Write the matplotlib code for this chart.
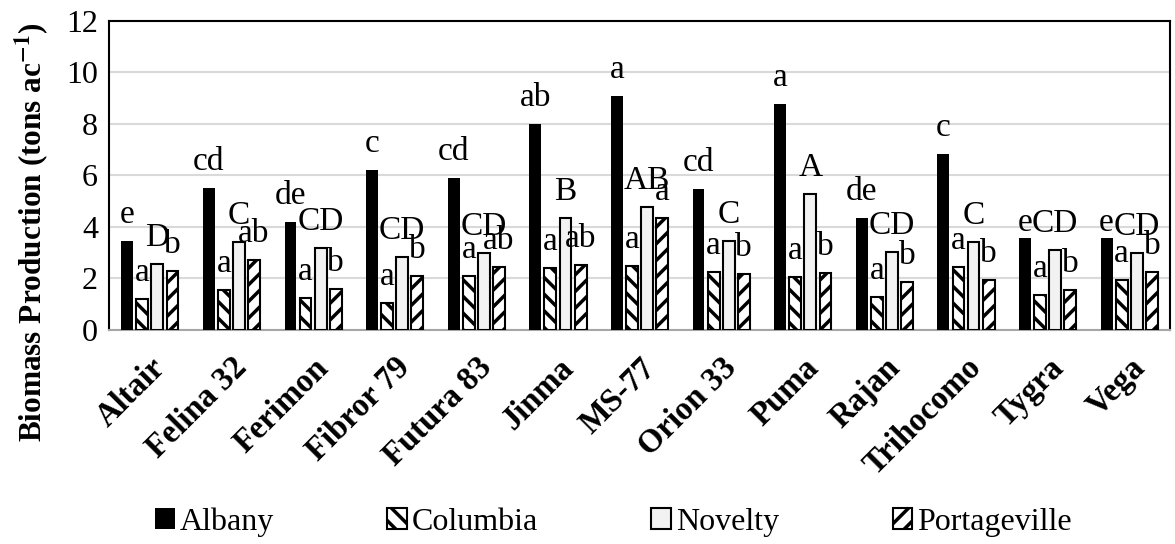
import numpy as np
import matplotlib
matplotlib.use("Agg")
import matplotlib.pyplot as plt

plt.rcParams['font.family'] = ['Liberation Serif', 'DejaVu Serif']
plt.rcParams['mathtext.fontset'] = 'stix'
plt.rcParams['hatch.linewidth'] = 2.5

cultivars = ["Altair", "Felina 32", "Ferimon", "Fibror 79", "Futura 83", "Jinma",
             "MS-77", "Orion 33", "Puma", "Rajan", "Trihocomo", "Tygra", "Vega"]

albany = [3.46, 5.53, 4.21, 6.21, 5.89, 8.00, 9.10, 5.46, 8.79, 4.35, 6.85, 3.57, 3.58]
columbia = [1.19, 1.54, 1.24, 1.06, 2.11, 2.41, 2.50, 2.25, 2.05, 1.28, 2.43, 1.36, 1.93]
novelty = [2.56, 3.43, 3.17, 2.85, 2.98, 4.34, 4.78, 3.47, 5.27, 3.04, 3.41, 3.10, 2.98]
portageville = [2.29, 2.71, 1.59, 2.10, 2.46, 2.51, 4.36, 2.17, 2.21, 1.85, 1.93, 1.55, 2.25]

albany_lbl = ["e", "cd", "de", "c", "cd", "ab", "a", "cd", "a", "de", "c", "e", "e"]
columbia_lbl = ["a"] * 13
novelty_lbl = ["D", "C", "CD", "CD", "CD", "B", "AB", "C", "A", "CD", "C", "CD", "CD"]
portageville_lbl = ["b", "ab", "b", "b", "ab", "ab", "a", "b", "b", "b", "b", "b", "b"]

series = [
    ("Albany", albany, albany_lbl, dict(color="black", edgecolor="black", linewidth=0)),
    ("Columbia", columbia, columbia_lbl, dict(color="white", edgecolor="black", hatch="\\\\", linewidth=1.5)),
    ("Novelty", novelty, novelty_lbl, dict(color="#f2f2f2", edgecolor="black", linewidth=1.5)),
    ("Portageville", portageville, portageville_lbl, dict(color="white", edgecolor="black", hatch="//", linewidth=1.5)),
]

fig = plt.figure(figsize=(11.75, 5.44), dpi=100)
ax = fig.add_axes([0.0928, 0.3934, 0.9030, 0.568])

x = np.arange(len(cultivars))
width = 0.145
step = 0.185

handles = []
for i, (name, vals, lbls, style) in enumerate(series):
    pos = x + (i - 1.5) * step
    bars = ax.bar(pos, vals, width, label=name, zorder=3, **style)
    handles.append(bars)
    for j, (p, v, t) in enumerate(zip(pos, vals, lbls)):
        dy = 13
        if name == "Albany" and cultivars[j] in ("Tygra", "Vega"):
            dy = 5
        ax.annotate(t, (p, v), xytext=(0, dy), textcoords="offset points",
                    ha="center", va="baseline", fontsize=24, zorder=4)

ax.set_xlim(-0.5, len(cultivars) - 0.5)
ax.set_ylim(0, 12)
ax.set_yticks(np.arange(0, 13, 2))
ax.yaxis.grid(True, color="#d9d9d9", linewidth=1.5, zorder=0)
ax.set_axisbelow(True)
ax.tick_params(axis="both", length=0, labelsize=23)
ax.tick_params(axis="y", pad=8)
ax.set_xticks(x)
ax.set_xticklabels(cultivars, rotation=45, ha="right", va="top",
                   rotation_mode="anchor", fontweight="bold", fontsize=23.5)
ax.tick_params(axis="x", pad=16)

for s in ("top", "left", "right"):
    ax.spines[s].set_color("black")
    ax.spines[s].set_linewidth(1.5)
ax.spines["bottom"].set_color("#a6a6a6")
ax.spines["bottom"].set_linewidth(1.5)

# y label sits lower than the axes centre in the original
fig.text(0.028, 0.574, "Biomass Production (tons ac$^{\\mathbf{-1}}$)",
         rotation=90, ha="center", va="center", fontweight="bold", fontsize=22.5)

fig.legend(handles=handles, labels=[s[0] for s in series], loc="center",
           bbox_to_anchor=(0.522, 0.04), ncol=4, frameon=False, fontsize=23,
           handlelength=0.62, handleheight=0.62, handletextpad=0.15,
           columnspacing=3.55)

fig.savefig("out.png", dpi=100)
